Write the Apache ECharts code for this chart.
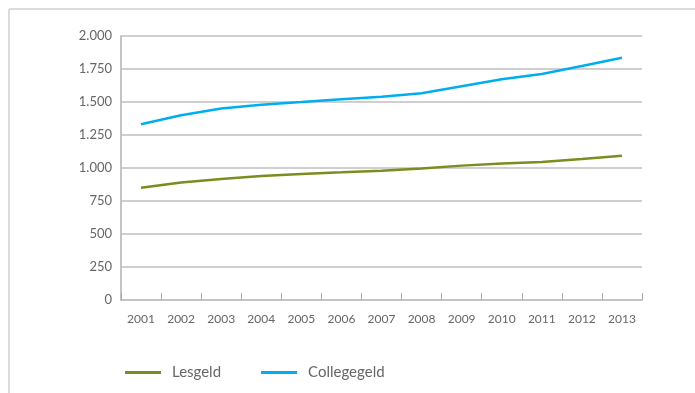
<!DOCTYPE html>
<html>
<head>
<meta charset="utf-8">
<script src="https://cdn.jsdelivr.net/npm/echarts@6/dist/echarts.min.js"></script>
<style>
  html, body { margin: 0; padding: 0; background: #fff; }
  #chart { width: 695px; height: 393px; }
</style>
</head>
<body>
<div id="chart"></div>
<script>
// jaren
var years = ['2001','2002','2003','2004','2005','2006','2007','2008','2009','2010','2011','2012','2013'];
// lesgeld per jaar
var lesgeld = [851, 890, 917, 939, 955, 967, 980, 997, 1018, 1035, 1045, 1068, 1093];
// collegegeld per jaar
var collegegeld = [1331, 1399, 1450, 1480, 1500, 1521, 1540, 1566, 1620, 1672, 1712, 1773, 1835];
// y-as labels
var yTicks = [0, 250, 500, 750, 1000, 1250, 1500, 1750, 2000];

var chart = echarts.init(document.getElementById('chart'));

function fmt(v) {
  return String(v).replace(/\B(?=(\d{3})+(?!\d))/g, '.');
}

var option = {
  animation: false,
  textStyle: { fontFamily: 'Lato' },
  // kader links en boven
  graphic: [
    { type: 'line', shape: { x1: 9, y1: 9, x2: 695, y2: 9 }, style: { stroke: '#dcdcdc', lineWidth: 2 } },
    { type: 'line', shape: { x1: 9, y1: 9, x2: 9, y2: 393 }, style: { stroke: '#dcdcdc', lineWidth: 2 } }
  ],
  grid: { left: 121, right: 53, top: 36, bottom: 93 },
  legend: {
    left: 120,
    top: 360,
    icon: 'rect',
    itemWidth: 36,
    itemHeight: 3,
    itemGap: 40,
    textStyle: { color: '#666', fontSize: 15, padding: [0, 0, 0, 6] },
    data: ['Lesgeld', 'Collegegeld']
  },
  xAxis: {
    type: 'category',
    data: years,
    boundaryGap: true,
    axisLine: { lineStyle: { color: '#c4c4c4', width: 2 } },
    axisTick: { show: true, alignWithLabel: false, inside: true, length: 7, lineStyle: { color: '#a8a8a8', width: 1 } },
    axisLabel: { color: '#666', fontSize: 12, margin: 13 }
  },
  yAxis: {
    type: 'value',
    min: 0,
    max: 2000,
    interval: 250,
    axisLine: { show: true, lineStyle: { color: '#c4c4c4', width: 2 } },
    axisTick: { show: false },
    splitLine: { lineStyle: { color: '#cfcfcf', width: 2 } },
    axisLabel: {
      color: '#666',
      fontSize: 13,
      margin: 9,
      padding: [7, 0, 0, 0],
      formatter: function (v) { return yTicks.indexOf(v) >= 0 ? fmt(v) : ''; }
    }
  },
  series: [
    {
      name: 'Lesgeld',
      type: 'line',
      data: lesgeld,
      showSymbol: false,
      color: '#7d8c1f',
      lineStyle: { width: 2.5 }
    },
    {
      name: 'Collegegeld',
      type: 'line',
      data: collegegeld,
      showSymbol: false,
      color: '#00aeef',
      lineStyle: { width: 2.5 }
    }
  ]
};

chart.setOption(option);
</script>
</body>
</html>
